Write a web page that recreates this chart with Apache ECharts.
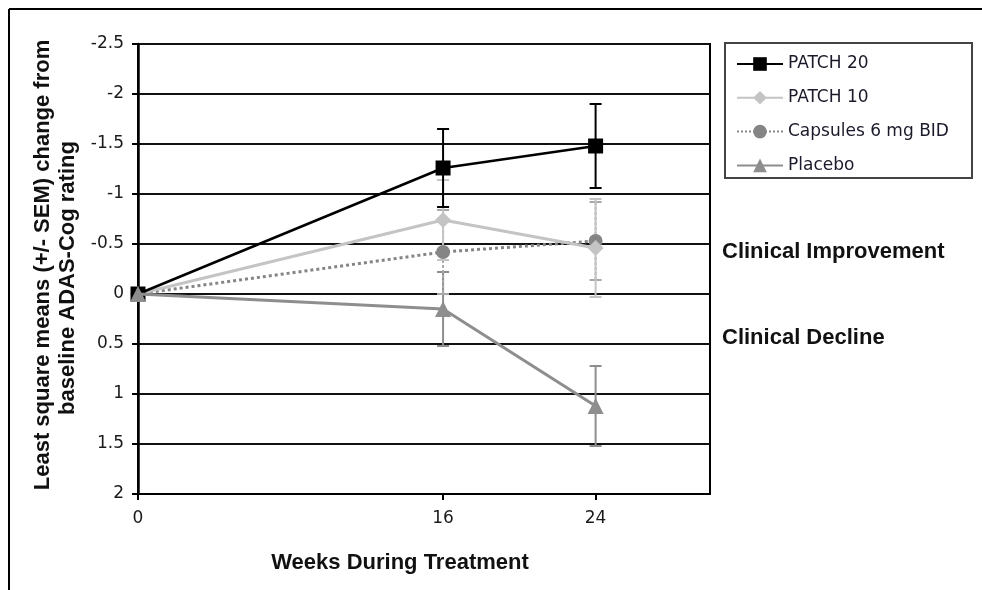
<!DOCTYPE html>
<html>
<head>
<meta charset="utf-8">
<script src="https://cdn.jsdelivr.net/npm/echarts@6/dist/echarts.min.js"></script>
<style>
html,body{margin:0;padding:0;background:#fff;}
#chart{width:982px;height:590px;}
</style>
</head>
<body>
<div id="chart"></div>
<script>
// ---- data ----
const weeks = [0, 16, 24];
const xTicks = [0, 16, 24];
const seriesNames = ['PATCH 20', 'PATCH 10', 'Capsules 6 mg BID', 'Placebo'];
const patch20 = [0, -1.26, -1.48];
const patch20Sem = [0, 0.39, 0.42];
const patch10 = [0, -0.74, -0.46];
const patch10Sem = [0, 0.40, 0.49];
const capsules = [0, -0.42, -0.53];
const capsulesSem = [0, 0.42, 0.39];
const placebo = [0, 0.15, 1.12];
const placeboSem = [0, 0.37, 0.40];
const yTitle1 = 'Least square means (+/- SEM) change from';
const yTitle2 = 'baseline ADAS-Cog rating';
const xTitle = 'Weeks During Treatment';
const note1 = 'Clinical Improvement';
const note2 = 'Clinical Decline';

const REG = 'DejaVu Sans';
const BOLD = '"Liberation Sans", Arial, sans-serif';

function pts(vals) { return weeks.map((w, i) => [w, vals[i]]); }
function errData(vals, sems) {
  return weeks.map((w, i) => [w, vals[i] - sems[i], vals[i] + sems[i]]).filter((d, i) => sems[i] > 0);
}
function errSeries(vals, sems, color, dashed) {
  return {
    type: 'custom',
    data: errData(vals, sems),
    z: 1,
    silent: true,
    encode: { x: 0, y: [1, 2] },
    renderItem: function (params, api) {
      const x = api.value(0);
      const a = api.coord([x, api.value(1)]);
      const b = api.coord([x, api.value(2)]);
      const hw = 6;
      const st = { stroke: color, lineWidth: 2, lineDash: dashed ? [3, 2] : null };
      return {
        type: 'group',
        children: [
          { type: 'line', shape: { x1: a[0], y1: a[1], x2: b[0], y2: b[1] }, style: st },
          { type: 'line', shape: { x1: a[0] - hw, y1: a[1], x2: a[0] + hw, y2: a[1] }, style: { stroke: color, lineWidth: 2 } },
          { type: 'line', shape: { x1: b[0] - hw, y1: b[1], x2: b[0] + hw, y2: b[1] }, style: { stroke: color, lineWidth: 2 } }
        ]
      };
    }
  };
}

const cP20 = '#000000', cP10 = '#c4c4c4', cCap = '#858585', cPla = '#8e8e8e';

const chart = echarts.init(document.getElementById('chart'), null, { renderer: 'canvas' });
chart.setOption({
  backgroundColor: '#ffffff',
  animation: false,
  grid: { left: 138, top: 44, right: 272, bottom: 96, show: true, borderColor: '#000', borderWidth: 2, backgroundColor: 'transparent' },
  xAxis: {
    type: 'value', min: 0, max: 30,
    axisLine: { show: true, onZero: false, lineStyle: { color: '#000', width: 2 } },
    axisTick: { show: true, customValues: xTicks, length: 6, lineStyle: { color: '#000', width: 2 } },
    axisLabel: { customValues: xTicks, margin: 16, fontFamily: REG, fontSize: 17, color: '#1a1a1a' },
    splitLine: { show: false }
  },
  yAxis: {
    type: 'value', min: -2.5, max: 2, interval: 0.5, inverse: true,
    axisLine: { show: true, onZero: false, lineStyle: { color: '#000', width: 2.5 } },
    axisTick: { show: true, length: 6, lineStyle: { color: '#000', width: 2 } },
    axisLabel: { margin: 14, fontFamily: REG, fontSize: 17, color: '#1a1a1a' },
    splitLine: { show: true, lineStyle: { color: '#111', width: 2 } }
  },
  legend: {
    data: seriesNames,
    orient: 'vertical',
    left: 731, top: 50.5,
    itemWidth: 46, itemHeight: 17, itemGap: 16.8,
    textStyle: { fontFamily: REG, fontSize: 17, color: '#1a1a2a' }
  },
  graphic: [
    { type: 'line', shape: { x1: 9, y1: 9, x2: 982, y2: 9 }, style: { stroke: '#000', lineWidth: 2 } },
    { type: 'line', shape: { x1: 9, y1: 9, x2: 9, y2: 590 }, style: { stroke: '#000', lineWidth: 2 } },
    { type: 'rect', shape: { x: 725, y: 43, width: 247, height: 135 }, style: { fill: '#fff', stroke: '#444', lineWidth: 2 }, z: -1 },
    { type: 'text', x: 722, y: 252, style: { text: note1, fontFamily: BOLD, fontWeight: 'bold', fontSize: 22, fill: '#111', align: 'left', verticalAlign: 'middle' } },
    { type: 'text', x: 722, y: 338, style: { text: note2, fontFamily: BOLD, fontWeight: 'bold', fontSize: 22, fill: '#111', align: 'left', verticalAlign: 'middle' } },
    { type: 'text', x: 400, y: 563, style: { text: xTitle, fontFamily: BOLD, fontWeight: 'bold', fontSize: 22, fill: '#111', align: 'center', verticalAlign: 'middle' } },
    { type: 'text', x: 43, y: 265, rotation: Math.PI / 2, style: { text: yTitle1, fontFamily: BOLD, fontWeight: 'bold', fontSize: 22, fill: '#111', align: 'center', verticalAlign: 'middle' } },
    { type: 'text', x: 68, y: 278, rotation: Math.PI / 2, style: { text: yTitle2, fontFamily: BOLD, fontWeight: 'bold', fontSize: 22, fill: '#111', align: 'center', verticalAlign: 'middle' } }
  ],
  series: [
    errSeries(placebo, placeboSem, cPla, false),
    errSeries(capsules, capsulesSem, '#a8a8a8', true),
    errSeries(patch10, patch10Sem, cP10, false),
    errSeries(patch20, patch20Sem, cP20, false),
    { name: 'Capsules 6 mg BID', type: 'line', data: pts(capsules), z: 3,
      symbol: 'circle', symbolSize: 14, itemStyle: { color: cCap },
      lineStyle: { color: cCap, width: 3, type: 'dotted' } },
    { name: 'PATCH 10', type: 'line', data: pts(patch10), z: 4,
      symbol: 'diamond', symbolSize: 16, itemStyle: { color: cP10 },
      lineStyle: { color: cP10, width: 3 } },
    { name: 'PATCH 20', type: 'line', data: pts(patch20), z: 5,
      symbol: 'rect', symbolSize: 15, itemStyle: { color: cP20 },
      lineStyle: { color: cP20, width: 2.5 } },
    { name: 'Placebo', type: 'line', data: pts(placebo), z: 6,
      symbol: 'triangle', symbolSize: 16, itemStyle: { color: cPla },
      lineStyle: { color: cPla, width: 3 } }
  ]
});
</script>
</body>
</html>
